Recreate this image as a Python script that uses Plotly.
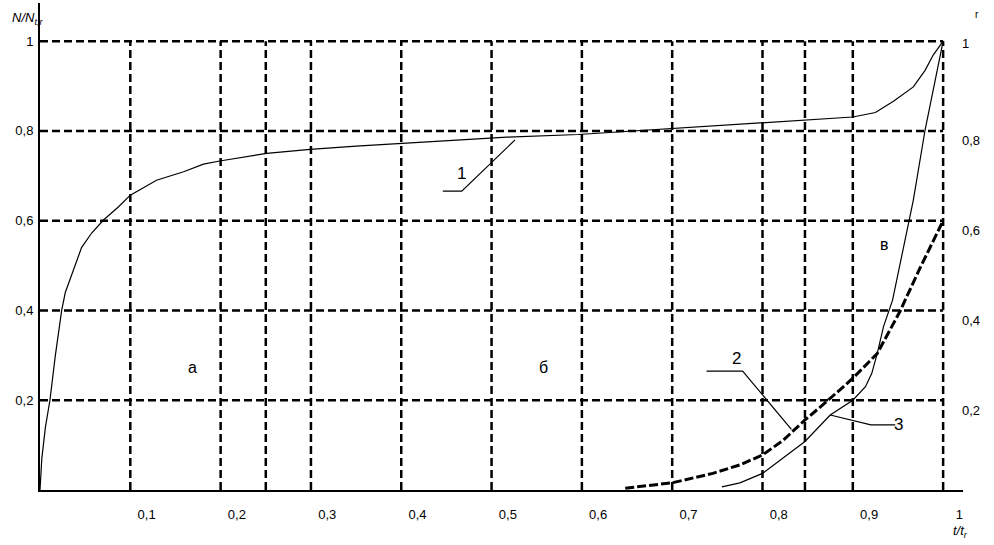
import plotly.graph_objects as go

# gridlines / ticks
x_grid = [0.1, 0.2, 0.25, 0.3, 0.4, 0.5, 0.6, 0.7, 0.8, 0.847, 0.9, 1.0]
x_ticks = [0.1, 0.2, 0.3, 0.4, 0.5, 0.6, 0.7, 0.8, 0.9, 1.0]
x_labels = ["0,1", "0,2", "0,3", "0,4", "0,5", "0,6", "0,7", "0,8", "0,9", "1"]
y_grid = [0.2, 0.4, 0.6, 0.8, 1.0]
y_labels = ["0,2", "0,4", "0,6", "0,8", "1"]

# curve 1
x1 = [0, 0.002, 0.006, 0.011, 0.017, 0.024, 0.028, 0.033, 0.046, 0.057, 0.070,
      0.087, 0.100, 0.129, 0.159, 0.181, 0.199, 0.251, 0.299, 0.35, 0.399,
      0.450, 0.517, 0.596, 0.660, 0.715, 0.794, 0.847, 0.900, 0.925, 0.945,
      0.967, 0.980, 0.989, 1.0]
y1 = [0, 0.07, 0.14, 0.2, 0.3, 0.4, 0.44, 0.468, 0.54, 0.572, 0.601,
      0.631, 0.657, 0.690, 0.709, 0.726, 0.733, 0.750, 0.759, 0.766, 0.772,
      0.779, 0.786, 0.792, 0.800, 0.808, 0.817, 0.824, 0.831, 0.841, 0.866,
      0.898, 0.935, 0.969, 1.0]

# curve 2 (dashed)
x2 = [0.648, 0.700, 0.745, 0.775, 0.800, 0.823, 0.847, 0.871, 0.900, 0.927,
      0.952, 0.975, 1.0]
y2 = [0.004, 0.016, 0.037, 0.056, 0.078, 0.111, 0.156, 0.197, 0.249, 0.304,
      0.397, 0.497, 0.6]

# curve 3
x3 = [0.755, 0.775, 0.800, 0.847, 0.875, 0.900, 0.914, 0.921, 0.927, 0.934,
      0.944, 0.967, 0.980, 1.0]
y3 = [0.007, 0.016, 0.037, 0.108, 0.167, 0.200, 0.230, 0.260, 0.304, 0.364,
      0.423, 0.646, 0.802, 1.0]

# curve labels with leader lines
labels = ["1", "2", "3"]
label_pos = [(0.467, 0.705), (0.771, 0.292), (0.951, 0.146)]
leaders = [
    ([0.446, 0.467, 0.526], [0.666, 0.666, 0.780]),
    ([0.738, 0.778, 0.832], [0.265, 0.265, 0.135]),
    ([0.875, 0.920, 0.947], [0.167, 0.145, 0.145]),
]
zones = ["а", "б", "в"]
zone_pos = [(0.169, 0.272), (0.557, 0.272), (0.935, 0.546)]

ink = "black"
grid_line = dict(color=ink, width=2.5, dash="8px,4px")

fig = go.Figure()

fig.add_trace(go.Scatter(x=x1, y=y1, mode="lines",
                         line=dict(color=ink, width=1.2)))
fig.add_trace(go.Scatter(x=x2, y=y2, mode="lines",
                         line=dict(color=ink, width=3, dash="9px,3px")))
fig.add_trace(go.Scatter(x=x3, y=y3, mode="lines",
                         line=dict(color=ink, width=1.2)))
for lx, ly in leaders:
    fig.add_trace(go.Scatter(x=lx, y=ly, mode="lines",
                             line=dict(color=ink, width=1.2)))

# dashed grid, limited to the 0..1 box
for gx in x_grid:
    fig.add_shape(type="line", x0=gx, x1=gx, y0=0, y1=1, line=grid_line, layer="below")
for gy in y_grid:
    fig.add_shape(type="line", x0=0, x1=1, y0=gy, y1=gy, line=grid_line, layer="below")

label_font = dict(family="Liberation Sans, Arial, sans-serif", size=13, color=ink)
big_font = dict(family="Liberation Sans, Arial, sans-serif", size=17, color=ink)

for t, (ax, ay) in zip(labels, label_pos):
    fig.add_annotation(x=ax, y=ay, text=t, showarrow=False, font=big_font)
for t, (ax, ay) in zip(zones, zone_pos):
    fig.add_annotation(x=ax, y=ay, text=t, showarrow=False, font=dict(big_font, size=16))

# right-hand scale
for gy, t in zip(y_grid, y_labels):
    fig.add_annotation(x=1, xref="paper", xanchor="left", xshift=-3,
                       y=gy, yshift=-10 if gy < 1 else -2,
                       text=t, showarrow=False, font=label_font)
fig.add_annotation(x=1, xref="paper", xanchor="left", xshift=10, y=1.06,
                   text="r", showarrow=False, font=dict(label_font, size=10))

# axis titles
fig.add_annotation(x=0, xref="paper", xanchor="center", xshift=-13, y=1.05,
                   text="<i>N/N<sub>t,r</sub></i>", showarrow=False,
                   font=dict(label_font, size=13))
fig.add_annotation(x=1, xref="paper", xanchor="center", xshift=-3,
                   y=0, yref="paper", yanchor="middle", yshift=-41,
                   text="<i>t/t<sub>r</sub></i>", showarrow=False,
                   font=dict(label_font, size=13))

fig.update_layout(
    width=994, height=545,
    margin=dict(l=40, r=31, t=3, b=55),
    paper_bgcolor="white", plot_bgcolor="white",
    showlegend=False,
    xaxis=dict(range=[0, 1.022], showgrid=False, zeroline=False,
               showline=True, linecolor=ink, linewidth=2,
               tickvals=[v + 0.018 for v in x_ticks], ticktext=x_labels,
               ticks="", ticklabelstandoff=11, tickfont=label_font),
    yaxis=dict(range=[0, 1.085], showgrid=False, zeroline=False,
               showline=True, linecolor=ink, linewidth=2,
               tickvals=y_grid, ticktext=y_labels,
               ticks="", ticklabelstandoff=2, tickfont=label_font),
)

# drop the default page margin so the figure sits at the window's corner
fig.write_html("out.html", config={"displayModeBar": False},
               post_script="document.body.style.margin='0';")
